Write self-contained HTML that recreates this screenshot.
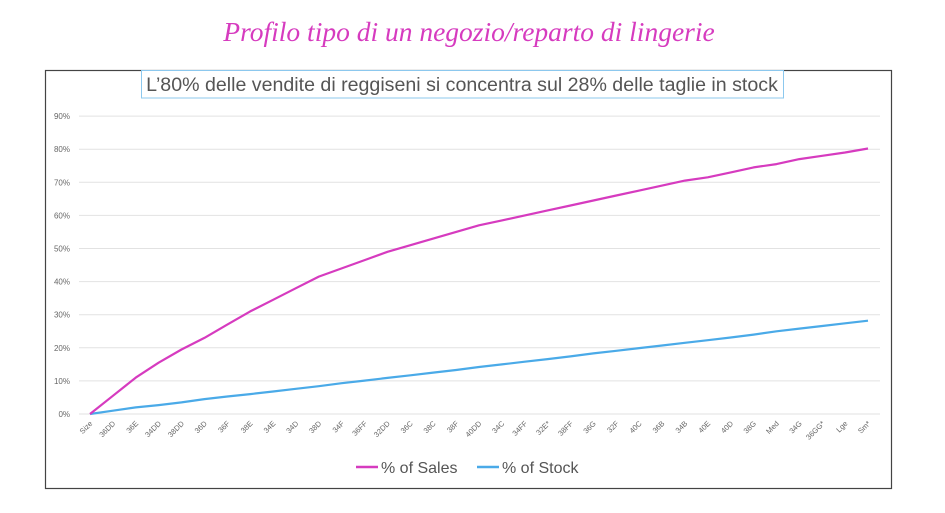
<!DOCTYPE html>
<html><head><meta charset="utf-8"><style>
html,body{margin:0;padding:0;background:#fff;width:945px;height:513px;overflow:hidden}
svg{display:block}
</style></head><body>
<svg id="s" width="945" height="513" xmlns="http://www.w3.org/2000/svg" font-family="Liberation Sans, sans-serif">
<text x="469" y="41" text-anchor="middle" font-family="Liberation Serif, serif" font-style="italic" font-size="27.5" fill="#d63bbf">Profilo tipo di un negozio/reparto di lingerie</text>
<rect x="45.5" y="70.5" width="846" height="418" fill="#fff" stroke="#444" stroke-width="1.2"/>
<rect x="141.5" y="70.5" width="642" height="27.5" fill="#fff" stroke="#8cc8ee" stroke-width="1"/>
<text x="462" y="91" text-anchor="middle" font-size="19.6" fill="#555">L’80% delle vendite di reggiseni si concentra sul 28% delle taglie in stock</text>
<g id="g"></g>
<line x1="356" y1="467" x2="378" y2="467" stroke="#d63bbf" stroke-width="2.5"/>
<text x="381" y="473" font-size="16" fill="#555">% of Sales</text>
<line x1="477" y1="467" x2="499" y2="467" stroke="#4aaae8" stroke-width="2.5"/>
<text x="502" y="473" font-size="16" fill="#555">% of Stock</text>
</svg>
<script>
var g=document.getElementById('g'),h='';
var y0=414,d=33.1;
for(var i=0;i<=9;i++){var y=y0-i*d;h+='<line x1="79" x2="880" y1="'+y+'" y2="'+y+'" stroke="#e2e2e2" stroke-width="1"/>';
h+='<text x="70" y="'+(y+3)+'" text-anchor="end" font-size="8" fill="#666">'+(i*10)+'%</text>';}
var L="Size,36DD,36E,34DD,38DD,36D,36F,38E,34E,34D,38D,34F,36FF,32DD,36C,38C,38F,40DD,34C,34FF,32E*,38FF,36G,32F,40C,36B,34B,40E,40D,38G,Med,34G,36GG*,Lge,Sm*".split(',');
var S=[0,5.5,11,15.5,19.5,23,27,31,34.5,38,41.5,44,46.5,49,51,53,55,57,58.5,60,61.5,63,64.5,66,67.5,69,70.5,71.5,73,74.5,75.5,77,78,79,80.2];
var K=[0,1,2,2.7,3.5,4.5,5.3,6,6.8,7.6,8.4,9.3,10.1,10.9,11.7,12.5,13.3,14.2,15,15.8,16.6,17.4,18.3,19.1,19.9,20.7,21.5,22.3,23.1,24,25,25.8,26.6,27.4,28.2];
var x0=90,dx=(868-90)/34,ps='',pk='';
for(var i=0;i<35;i++){var x=x0+i*dx;
h+='<text transform="translate('+(x+3)+',424) rotate(-45)" text-anchor="end" font-size="7.5" fill="#666">'+L[i]+'</text>';
ps+=(i?'L':'M')+x.toFixed(1)+','+(y0-S[i]*d/10).toFixed(1);
pk+=(i?'L':'M')+x.toFixed(1)+','+(y0-K[i]*d/10).toFixed(1);}
h+='<path d="'+pk+'" fill="none" stroke="#4aaae8" stroke-width="2.2" stroke-linejoin="round"/>';
h+='<path d="'+ps+'" fill="none" stroke="#d63bbf" stroke-width="2.2" stroke-linejoin="round"/>';
g.innerHTML=h;
</script>
</body></html>
